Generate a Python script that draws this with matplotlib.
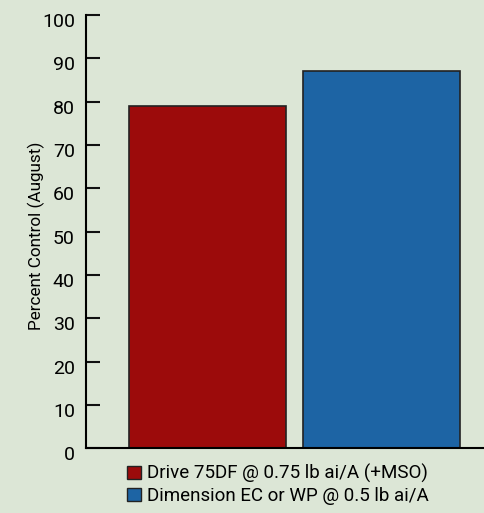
import matplotlib
matplotlib.use("Agg")
import matplotlib.pyplot as plt
import matplotlib.transforms as mtransforms
from matplotlib.patches import Patch

# data
treatments = ["Drive 75DF @ 0.75 lb ai/A (+MSO)", "Dimension EC or WP @ 0.5 lb ai/A"]
percent_control = [79, 87]
bar_colors = ["#9c0b0b", "#1d64a4"]
yticks = list(range(0, 101, 10))

plt.rcParams['font.family'] = ['Roboto', 'DejaVu Sans']
bg = "#dce6d6"

fig = plt.figure(figsize=(4.84, 5.13), dpi=100, facecolor=bg)
ax = fig.add_axes([86/484, (513-448.3)/513, (484-86)/484, (448.3-15)/513])
ax.set_facecolor(bg)

x = list(range(len(treatments)))
ax.bar(x, percent_control, width=0.9, color=bar_colors, edgecolor="#222222", linewidth=1.2)

ax.set_xlim(-0.698, 1.589)
ax.set_ylim(0, 100)
ax.set_yticks(yticks)
ax.set_yticklabels([str(t) for t in yticks], fontsize=14)
ax.tick_params(axis="y", direction="in", length=10, width=1.5, pad=8, color="#111111")
# labels sit a few pixels below their ticks in the original
shift = mtransforms.ScaledTranslation(0, -5/100, fig.dpi_scale_trans)
for lbl in ax.get_yticklabels():
    lbl.set_transform(lbl.get_transform() + shift)
ax.set_xticks([])
for s in ["top", "right"]:
    ax.spines[s].set_visible(False)
ax.spines["left"].set_linewidth(1.5)
ax.spines["bottom"].set_linewidth(1.5)
ax.set_ylabel("Percent Control (August)", fontsize=12.3)
ax.yaxis.set_label_coords(-0.103, 0.49)

handles = [Patch(facecolor=c, edgecolor="#222222", linewidth=1) for c in bar_colors]
fig.legend(handles, treatments, loc="upper left", bbox_to_anchor=(127/484, 1 - 464/513),
           frameon=False, fontsize=13.5, handlelength=0.75, handleheight=0.75,
           handletextpad=0.3, labelspacing=0.2, borderpad=0, borderaxespad=0)

fig.savefig("out.png", dpi=100, facecolor=bg)
